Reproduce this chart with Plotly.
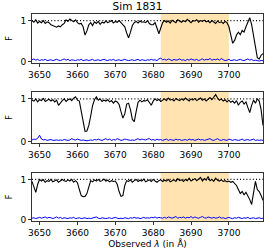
import numpy as np
import plotly.graph_objects as go

# wavelength grid (Angstrom), 0.5 A pixels
wave = np.arange(3648.0, 3709.01, 0.5)

flux1 = [1.0, 0.96, 1.02, 0.94, 0.98, 0.95, 1.0, 0.93, 0.97, 0.95,
         0.9, 0.88, 0.86, 0.84, 0.87, 0.85, 0.9, 0.93, 1.02, 0.98,
         1.04, 1.0, 0.97, 1.02, 0.95, 0.92, 0.93, 0.85, 0.65, 0.75,
         0.9, 0.95, 0.88, 0.97, 0.93, 0.98, 0.91, 0.96, 0.94, 0.99,
         0.95, 0.97, 1.0, 0.94, 0.98, 0.96, 1.0, 0.95, 0.9, 0.85,
         0.7, 0.58, 0.72, 0.88, 0.95, 0.98, 0.94, 0.99, 0.96, 0.97,
         0.95, 1.0, 0.93, 0.9, 0.9, 0.95, 0.82, 0.68, 0.82, 0.95,
         1.0, 0.96, 0.99, 0.94, 1.01, 0.97, 0.95, 1.02, 0.98, 0.96,
         1.0, 0.97, 1.03, 0.98, 0.95, 1.0, 0.99, 1.02, 0.96, 1.0,
         0.98, 1.01, 0.97, 0.99, 0.95, 1.0, 0.97, 0.93, 0.99, 0.95,
         0.97, 0.93, 0.98, 0.95, 0.85, 0.62, 0.45, 0.52, 0.65, 0.72,
         0.66, 0.76, 0.72, 0.85, 0.98, 1.07, 0.9, 0.62, 0.3, 0.1,
         0.07, 0.16, 0.2]

flux2 = [0.97, 0.95, 1.0, 0.93, 0.98, 0.96, 1.01, 0.94, 0.97, 0.99,
         0.95, 0.98, 0.93, 0.97, 0.85, 0.92, 0.96, 1.0, 0.94, 0.98,
         1.0, 0.96, 1.02, 1.05, 0.97, 0.95, 0.7, 0.4, 0.24, 0.25,
         0.38, 0.6, 0.85, 0.98, 1.05, 0.97, 1.0, 0.94, 0.97, 0.95,
         0.98, 0.93, 0.96, 0.9, 0.95, 0.93, 0.87, 0.7, 0.55, 0.65,
         0.88, 0.9, 0.75, 0.52, 0.47, 0.7, 0.92, 0.97, 0.93, 0.96,
         0.95, 0.98, 0.9, 0.85, 0.95, 1.0, 0.96, 0.99, 0.94, 0.97,
         1.0, 0.96, 1.02, 0.97, 0.99, 0.95, 1.01, 0.98, 0.96, 1.0,
         0.97, 1.02, 0.98, 0.95, 1.0, 0.97, 1.01, 0.96, 0.99, 1.02,
         0.97, 1.0, 0.95, 0.99, 1.03, 0.98, 1.05, 1.1, 1.02, 0.97,
         1.0, 0.95, 0.98, 0.93, 0.97, 0.92, 0.95, 0.9, 0.96, 0.85,
         0.92, 0.95, 0.88, 0.93, 0.8, 0.68, 0.85, 0.97, 0.9, 1.0,
         0.95, 0.75, 0.38]

flux3 = [0.95, 0.8, 0.68, 0.88, 1.0, 0.96, 0.99, 0.93, 0.97, 0.95,
         1.0, 0.94, 0.97, 0.99, 0.93, 0.96, 1.0, 0.97, 0.95, 0.99,
         0.96, 1.0, 0.93, 0.97, 0.92, 0.75, 0.6, 0.57, 0.58, 0.65,
         0.85, 0.97, 0.94, 0.99, 0.96, 1.0, 0.95, 0.97, 1.01, 0.96,
         0.98, 0.94, 0.97, 0.95, 0.96, 0.88, 0.7, 0.58, 0.6, 0.85,
         0.97, 0.95, 0.99, 0.93, 0.97, 1.0, 0.95, 0.98, 0.96, 1.01,
         0.94, 0.97, 0.99, 0.95, 1.0, 0.96, 0.93, 0.97, 0.99, 0.95,
         0.98, 0.96, 1.0, 0.94, 0.97, 0.99, 0.95, 1.02, 0.97, 0.99,
         0.95, 1.0, 0.97, 1.03, 0.96, 0.99, 1.02, 0.97, 1.0, 1.05,
         0.96, 1.02, 0.98, 1.07, 0.97, 1.0, 0.95, 1.03, 0.98, 0.96,
         0.99, 0.95, 0.97, 0.94, 0.96, 0.93, 0.95, 0.9, 0.85, 0.75,
         0.65, 0.7, 0.62, 0.68, 0.6, 0.5, 0.38, 0.7, 0.95, 0.75,
         0.7, 0.6, 0.48]

err1 = [0.05, 0.07, 0.04, 0.06, 0.03, 0.05, 0.04, 0.06, 0.03, 0.04,
        0.05, 0.03, 0.04, 0.06, 0.04, 0.03, 0.05, 0.07, 0.04, 0.06,
        0.03, 0.05, 0.04, 0.03, 0.05, 0.04, 0.06, 0.03, 0.04, 0.05,
        0.03, 0.04, 0.06, 0.03, 0.04, 0.05, 0.03, 0.04, 0.06, 0.04,
        0.03, 0.05, 0.04, 0.06, 0.03, 0.04, 0.05, 0.03, 0.04, 0.06,
        0.04, 0.03, 0.04, 0.05, 0.03, 0.04, 0.06, 0.03, 0.05, 0.04,
        0.03, 0.05, 0.04, 0.06, 0.04, 0.05, 0.03, 0.07, 0.09, 0.05,
        0.06, 0.04, 0.07, 0.05, 0.03, 0.06, 0.04, 0.05, 0.07, 0.04,
        0.05, 0.03, 0.06, 0.04, 0.07, 0.05, 0.04, 0.06, 0.03, 0.05,
        0.07, 0.04, 0.06, 0.05, 0.08, 0.04, 0.06, 0.05, 0.07, 0.04,
        0.08, 0.05, 0.03, 0.04, 0.06, 0.03, 0.04, 0.05, 0.03, 0.04,
        0.06, 0.04, 0.03, 0.05, 0.07, 0.04, 0.06, 0.03, 0.04, 0.03,
        0.02, 0.03, 0.03]

err2 = [0.04, 0.06, 0.05, 0.08, 0.15, 0.06, 0.04, 0.05, 0.03, 0.04,
        0.05, 0.03, 0.04, 0.04, 0.03, 0.04, 0.03, 0.05, 0.04, 0.03,
        0.04, 0.07, 0.05, 0.04, 0.06, 0.04, 0.03, 0.04, 0.03, 0.02,
        0.03, 0.04, 0.03, 0.05, 0.04, 0.06, 0.04, 0.03, 0.05, 0.07,
        0.04, 0.06, 0.03, 0.05, 0.04, 0.07, 0.05, 0.03, 0.04, 0.06,
        0.05, 0.04, 0.03, 0.04, 0.03, 0.05, 0.07, 0.04, 0.06, 0.05,
        0.04, 0.06, 0.07, 0.04, 0.05, 0.03, 0.06, 0.04, 0.05, 0.03,
        0.04, 0.06, 0.03, 0.05, 0.04, 0.03, 0.06, 0.04, 0.05, 0.03,
        0.04, 0.05, 0.03, 0.06, 0.04, 0.05, 0.03, 0.04, 0.06, 0.04,
        0.05, 0.03, 0.04, 0.05, 0.07, 0.04, 0.03, 0.05, 0.07, 0.04,
        0.03, 0.05, 0.04, 0.03, 0.06, 0.04, 0.03, 0.05, 0.04, 0.03,
        0.04, 0.06, 0.03, 0.04, 0.05, 0.03, 0.04, 0.06, 0.03, 0.04,
        0.03, 0.04, 0.03]

err3 = [0.04, 0.05, 0.03, 0.04, 0.06, 0.04, 0.05, 0.07, 0.04, 0.06,
        0.05, 0.03, 0.05, 0.07, 0.04, 0.06, 0.03, 0.05, 0.04, 0.03,
        0.05, 0.04, 0.06, 0.03, 0.04, 0.05, 0.03, 0.04, 0.05, 0.03,
        0.04, 0.03, 0.04, 0.05, 0.07, 0.04, 0.03, 0.05, 0.04, 0.03,
        0.04, 0.05, 0.03, 0.04, 0.06, 0.04, 0.03, 0.04, 0.03, 0.05,
        0.04, 0.03, 0.05, 0.04, 0.06, 0.04, 0.05, 0.03, 0.04, 0.06,
        0.04, 0.05, 0.04, 0.06, 0.05, 0.07, 0.04, 0.06, 0.05, 0.04,
        0.06, 0.04, 0.07, 0.05, 0.04, 0.06, 0.08, 0.04, 0.06, 0.05,
        0.07, 0.04, 0.06, 0.05, 0.08, 0.04, 0.07, 0.05, 0.04, 0.06,
        0.08, 0.05, 0.04, 0.07, 0.05, 0.04, 0.06, 0.04, 0.05, 0.07,
        0.04, 0.05, 0.03, 0.05, 0.06, 0.04, 0.03, 0.05, 0.04, 0.06,
        0.04, 0.03, 0.05, 0.04, 0.06, 0.03, 0.04, 0.05, 0.03, 0.04,
        0.05, 0.03, 0.04]

band = [3682.0, 3700.0]
x_range = [3648.0, 3709.0]
y_range = [-0.03, 1.16]
x_ticks = [3650, 3660, 3670, 3680, 3690, 3700]
y_ticks = [0, 1]
title = "Sim 1831"

fluxes = [flux1, flux2, flux3]
errs = [err1, err2, err3]
domains = [[0.763, 1.0], [0.377, 0.623], [0.0, 0.232]]

FONT = "DejaVu Sans"
fig = go.Figure()
shapes = []
for k in range(3):
    xa = "x" if k == 0 else f"x{k+1}"
    ya = "y" if k == 0 else f"y{k+1}"
    shapes.append(dict(type="rect", xref=xa, yref=f"{ya} domain",
                       x0=band[0], x1=band[1], y0=0, y1=1,
                       fillcolor="#FFE4B2", line=dict(width=0), layer="below"))
    fig.add_trace(go.Scatter(x=x_range, y=[1, 1], mode="lines",
                             line=dict(color="black", width=1.2, dash="1px,2.2px"),
                             xaxis=xa, yaxis=ya, showlegend=False, hoverinfo="skip"))
    fig.add_trace(go.Scatter(x=wave, y=fluxes[k], mode="lines",
                             line=dict(color="black", width=1.1),
                             xaxis=xa, yaxis=ya, showlegend=False))
    fig.add_trace(go.Scatter(x=wave, y=errs[k], mode="lines",
                             line=dict(color="#0000ff", width=1),
                             xaxis=xa, yaxis=ya, showlegend=False))

axis_common = dict(showline=True, linecolor="#333333", linewidth=1, mirror=True,
                   ticks="outside", ticklen=3, tickcolor="#333333",
                   showgrid=False, zeroline=False, automargin=False,
                   tickfont=dict(family=FONT, size=9, color="black"))
layout = dict(width=275, height=252, autosize=False,
              margin=dict(l=32, r=12, t=14, b=31, autoexpand=False),
              paper_bgcolor="white", plot_bgcolor="white",
              shapes=shapes,
              title=dict(text=title, x=0.5, xanchor="center", y=0.99, yanchor="top",
                         font=dict(family=FONT, size=10.5, color="black")))
for k in range(3):
    xk = "xaxis" if k == 0 else f"xaxis{k+1}"
    yk = "yaxis" if k == 0 else f"yaxis{k+1}"
    ya = "y" if k == 0 else f"y{k+1}"
    xa = "x" if k == 0 else f"x{k+1}"
    layout[xk] = dict(axis_common, range=x_range, tickvals=x_ticks,
                      anchor=ya, domain=[0, 1])
    layout[yk] = dict(axis_common, range=y_range, tickvals=y_ticks,
                      anchor=xa, domain=domains[k],
                      title=dict(text="F", standoff=6,
                                 font=dict(family=FONT, size=8, color="black")))
layout["xaxis3"]["title"] = dict(text="Observed <i>λ</i> (in Å)", standoff=3,
                                 font=dict(family=FONT, size=9, color="black"))
fig.update_layout(**layout)
fig.write_html("out.html",
               config={"displayModeBar": False},
               post_script="document.body.style.margin='0px';document.body.style.padding='0px';")
